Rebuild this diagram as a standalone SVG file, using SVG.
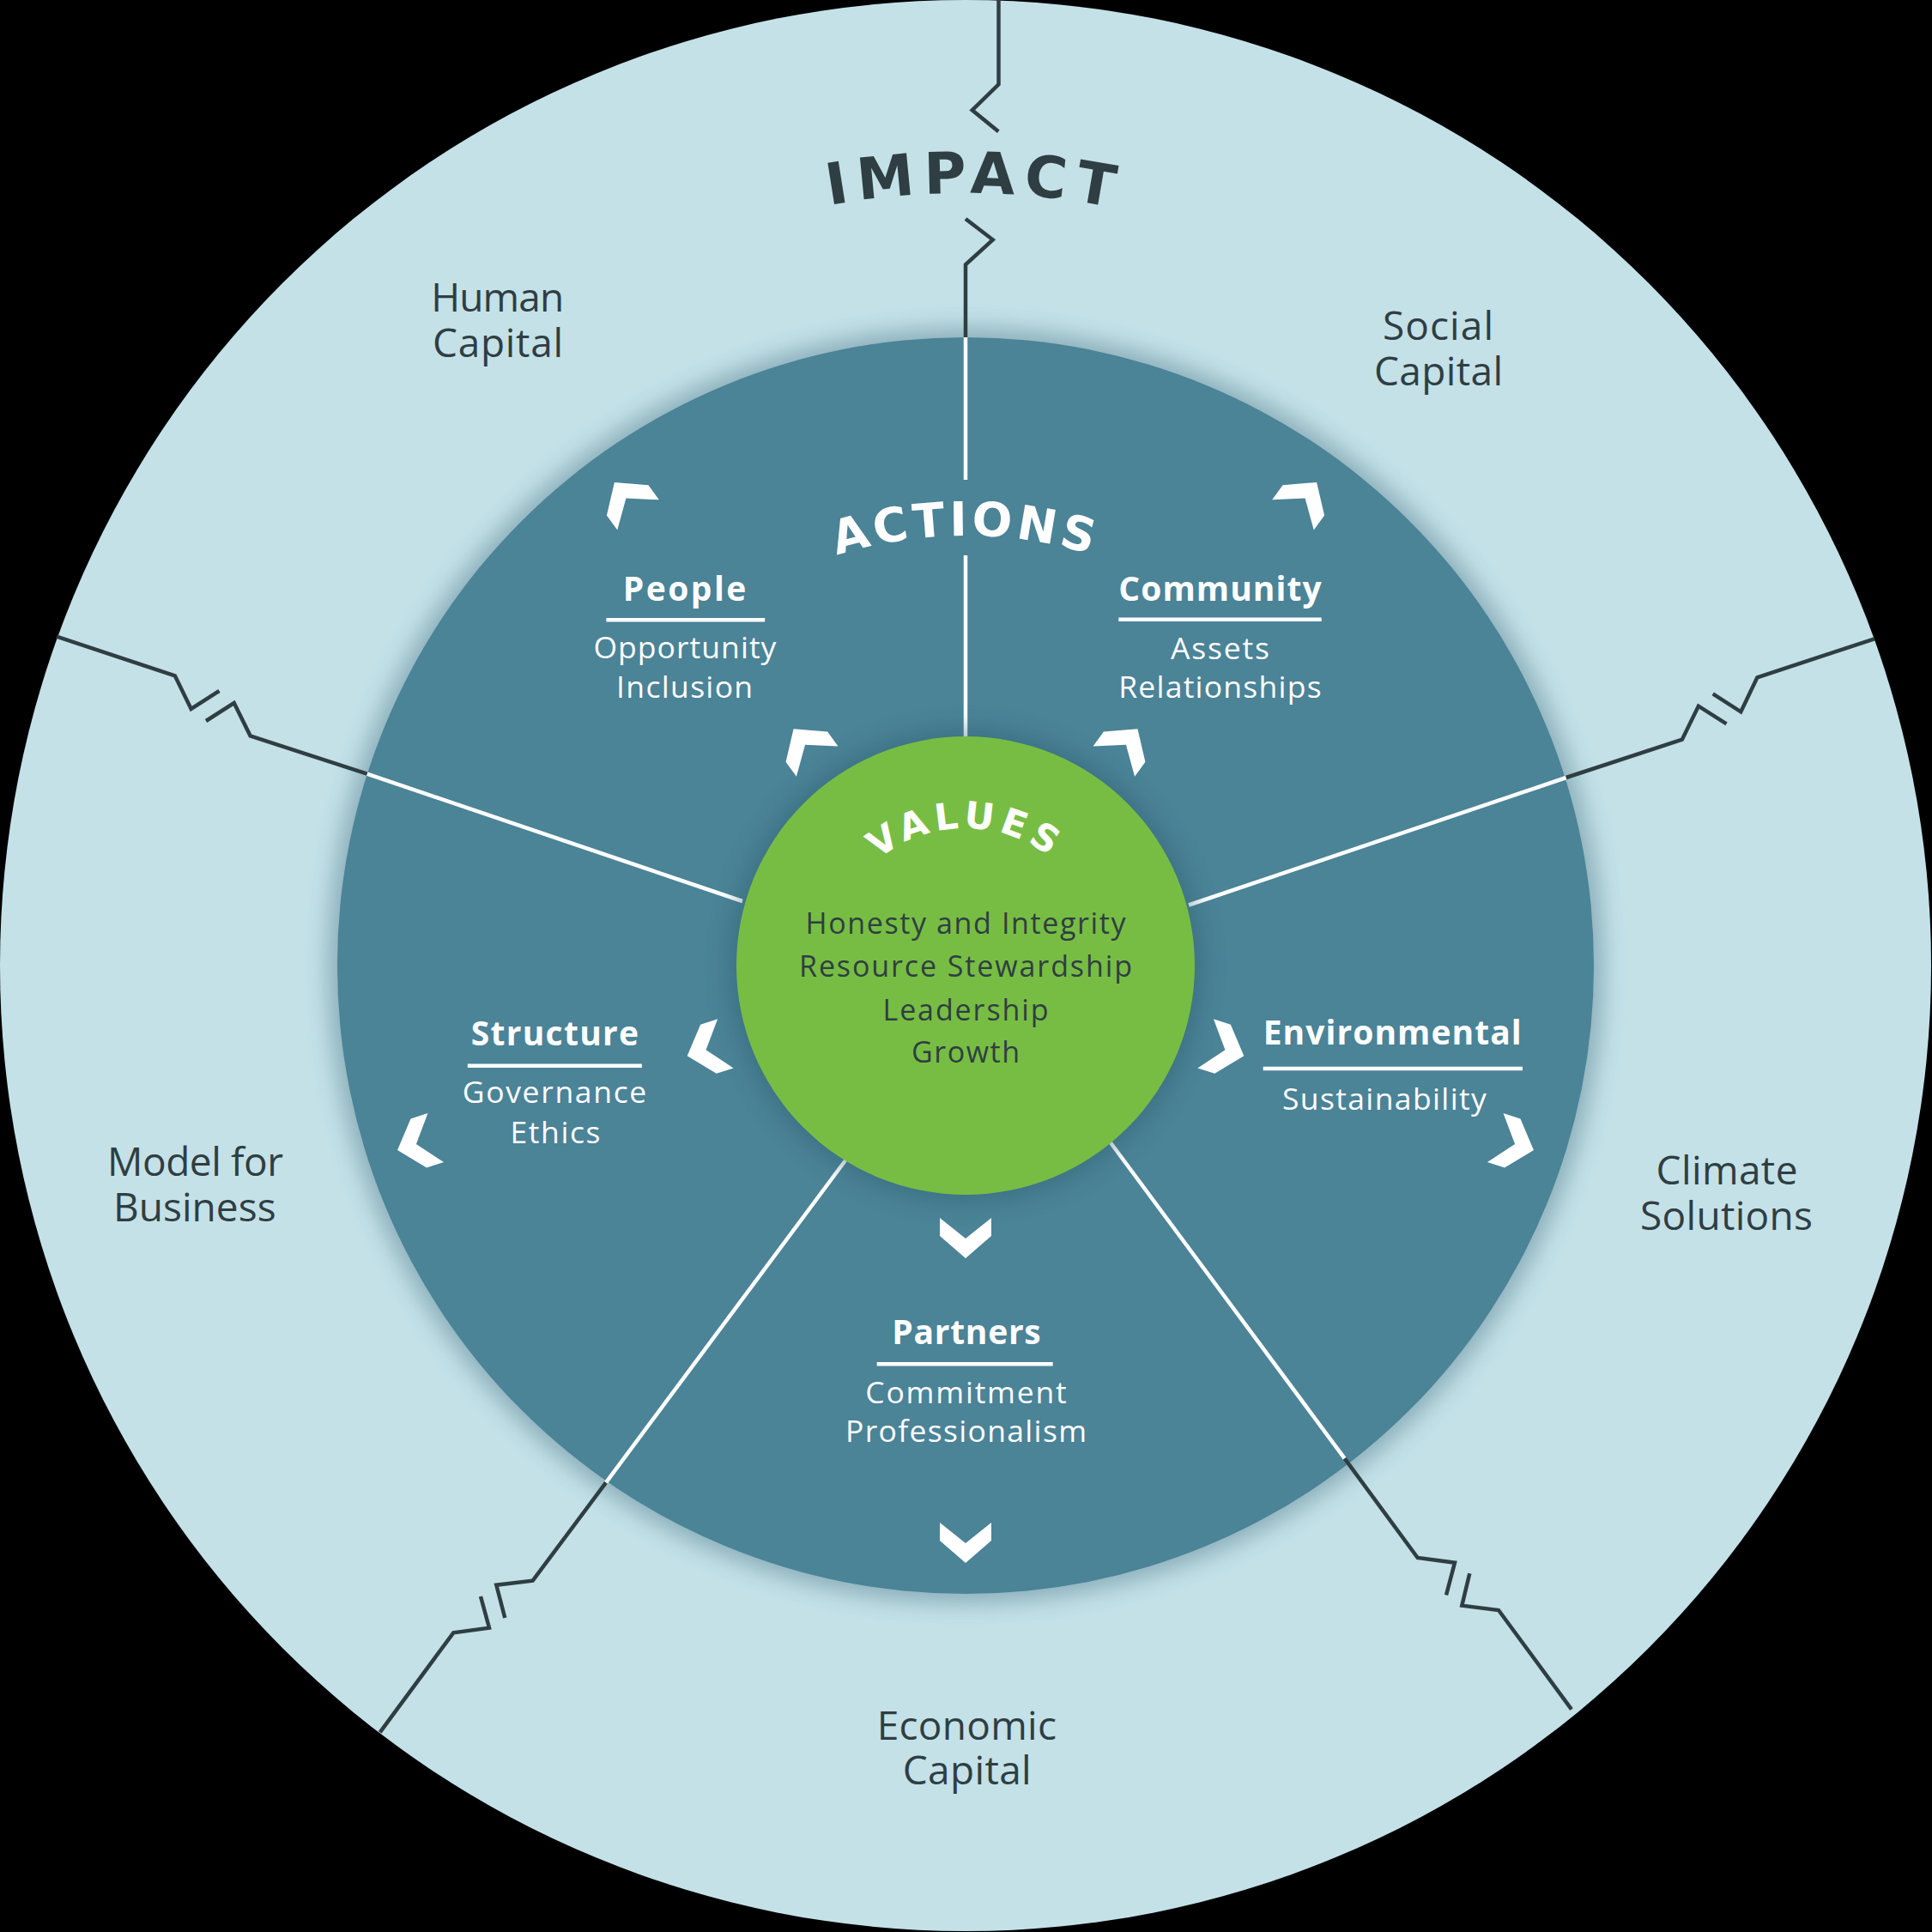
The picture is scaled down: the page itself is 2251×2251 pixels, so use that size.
<svg xmlns="http://www.w3.org/2000/svg" width="2251" height="2251" viewBox="0 0 2251 2251">
<defs>
<style>
.title{font-family:"Open Sans","Liberation Sans",sans-serif;font-weight:700;font-size:39px;fill:#ffffff;text-anchor:middle}
.sub{font-family:"Open Sans","Liberation Sans",sans-serif;font-weight:400;font-size:35.5px;fill:#ffffff;text-anchor:middle}
.outer{font-family:"Open Sans","Liberation Sans",sans-serif;font-weight:500;font-size:46px;fill:#2F3E42;text-anchor:middle}
.val{font-family:"Open Sans","Liberation Sans",sans-serif;font-weight:400;font-size:34px;fill:#2F3E42;text-anchor:middle}
.arc{font-family:"DejaVu Sans","Liberation Sans",sans-serif;font-weight:700;text-anchor:middle}
.zig{fill:none;stroke:#2F3E42;stroke-width:4.5;stroke-linejoin:miter;stroke-linecap:butt}
.spoke{stroke:#ffffff;stroke-width:4.5;fill:none}
.rule{stroke:#ffffff;stroke-width:4.5}
.chev{fill:#ffffff}
</style>
<filter id="soft" x="-20%" y="-20%" width="140%" height="140%"><feGaussianBlur stdDeviation="14"/></filter>
<path id="chev" d="M-24,-30 L0,0 L-24,30 L-3,30 L23,0 L-3,-30 Z"/>
<path id="arcImpact" d="M345.6,675 A900,900 0 0 1 1904.4,675"/>
<path id="arcActions" d="M691.1,874.5 A501,501 0 0 1 1558.9,874.5"/>
<path id="arcValues" d="M986.4,1045 A160,160 0 0 1 1263.6,1045"/>
</defs>

<rect x="0" y="0" width="2251" height="2251" fill="#000000"/>

<g id="impact-ring">
<circle cx="1125" cy="1125" r="1125" fill="#C4E1E8"/>
<text class="arc" font-size="67" fill="#2F3E42" letter-spacing="10" transform="rotate(0.7 1125 1125)"><textPath href="#arcImpact" startOffset="50%">IMPACT</textPath></text>
</g>

<g id="actions-ring">
<circle cx="1125" cy="1125" r="742" fill="#3d6c7c" opacity="0.45" filter="url(#soft)"/>
<circle cx="1125" cy="1125" r="732" fill="#4B8397"/>
<text class="arc" font-size="55" fill="#ffffff" letter-spacing="4.5"><textPath href="#arcActions" startOffset="50%">ACTIONS</textPath></text>
</g>

<g id="connectors">
<line class="spoke" x1="1125" y1="393" x2="1125" y2="559"/>
<line class="spoke" x1="1125" y1="647" x2="1125" y2="870"/>
<line class="spoke" x1="1385" y1="1054.5" x2="1824.7" y2="906"/>
<line class="spoke" x1="865" y1="1050" x2="427.7" y2="901.7"/>
<line class="spoke" x1="1290" y1="1326" x2="1566.7" y2="1699.3"/>
<line class="spoke" x1="988" y1="1348" x2="706" y2="1727.3"/>
<path class="zig" d="M1125,393 L1125,308.3 L1156.7,279.3 L1125,255"/>
<path class="zig" d="M1163.3,153.3 L1132.7,128.3 L1163.5,98.3 L1163.5,0"/>
<path class="zig" d="M1824.7,906 L1959.8,861.7 L1978.9,822.7 L2011.5,843.3"/>
<path class="zig" d="M1995.7,808.3 L2028.3,829.3 L2047.4,789.3 L2183.9,744.3"/>
<path class="zig" d="M427.7,901.7 L291.6,857.3 L272.7,819 L240,840"/>
<path class="zig" d="M255.5,805 L222.7,826 L203.8,787.3 L66,741.7"/>
<path class="zig" d="M1566.7,1699.3 L1651.7,1815 L1695,1820.7 L1685,1858.3"/>
<path class="zig" d="M1712.3,1833.3 L1703.3,1870.7 L1746,1876 L1831,1991.7"/>
<path class="zig" d="M706,1727.3 L620.7,1841.7 L578.3,1846.7 L588.3,1885"/>
<path class="zig" d="M560,1860 L570,1896.7 L528.3,1902.3 L442.7,2018.3"/>
</g>

<g id="arrows">
<use href="#chev" class="chev" transform="rotate(90 1125 1125) translate(1443 1125)"/>
<use href="#chev" class="chev" transform="rotate(90 1125 1125) translate(1798 1125)"/>
<use href="#chev" class="chev" transform="rotate(18 1125 1125) translate(1443 1125)"/>
<use href="#chev" class="chev" transform="rotate(18 1125 1125) translate(1798 1125)"/>
<use href="#chev" class="chev" transform="rotate(162 1125 1125) translate(1443 1125)"/>
<use href="#chev" class="chev" transform="rotate(162 1125 1125) translate(1798 1125)"/>
<use href="#chev" class="chev" transform="rotate(-54 1125 1125) translate(1443 1125)"/>
<use href="#chev" class="chev" transform="rotate(-54 1125 1125) translate(1798 1125)"/>
<use href="#chev" class="chev" transform="rotate(-126 1125 1125) translate(1443 1125)"/>
<use href="#chev" class="chev" transform="rotate(-126 1125 1125) translate(1798 1125)"/>
</g>

<g id="values">
<circle cx="1125" cy="1125" r="275" fill="#2c5a6a" opacity="0.45" filter="url(#soft)"/>
<circle cx="1125" cy="1125" r="267" fill="#77BD43"/>
<text class="arc" font-size="43" fill="#ffffff" letter-spacing="6"><textPath href="#arcValues" startOffset="50%">VALUES</textPath></text>
<text class="val" x="1125" y="1088" textLength="373">Honesty and Integrity</text>
<text class="val" x="1125" y="1138" textLength="388">Resource Stewardship</text>
<text class="val" x="1125" y="1189" textLength="193">Leadership</text>
<text class="val" x="1125" y="1238" textLength="126">Growth</text>
</g>

<g id="node-people">
<text class="title" x="797.6" y="700" textLength="143.6">People</text>
<line class="rule" x1="706.4" y1="722.3" x2="891.2" y2="722.3"/>
<text class="sub" x="797.9" y="766.7" textLength="213">Opportunity</text>
<text class="sub" x="797.6" y="813.3" textLength="159">Inclusion</text>
</g>

<g id="node-community">
<text class="title" x="1421.5" y="700" textLength="236.4">Community</text>
<line class="rule" x1="1303.3" y1="721.7" x2="1539.7" y2="721.7"/>
<text class="sub" x="1421.5" y="768" textLength="115">Assets</text>
<text class="sub" x="1421.4" y="813.3" textLength="236.4">Relationships</text>
</g>

<g id="node-structure">
<text class="title" x="646.4" y="1218.3" textLength="195.4">Structure</text>
<line class="rule" x1="544.8" y1="1241.7" x2="747.9" y2="1241.7"/>
<text class="sub" x="646" y="1285" textLength="214.6">Governance</text>
<text class="sub" x="647" y="1331.7" textLength="105">Ethics</text>
</g>

<g id="node-environmental">
<text class="title" x="1622.2" y="1217.3" textLength="301">Environmental</text>
<line class="rule" x1="1471.7" y1="1245" x2="1774" y2="1245"/>
<text class="sub" x="1612.9" y="1293.3" textLength="237.7">Sustainability</text>
</g>

<g id="node-partners">
<text class="title" x="1126" y="1566" textLength="173.4">Partners</text>
<line class="rule" x1="1021.7" y1="1589.3" x2="1226.7" y2="1589.3"/>
<text class="sub" x="1125.5" y="1635" textLength="234.4">Commitment</text>
<text class="sub" x="1125.5" y="1680" textLength="281">Professionalism</text>
</g>

<g id="label-human-capital">
<text class="outer" x="579.7" y="363" textLength="155">Human</text>
<text class="outer" x="580" y="416" textLength="152">Capital</text>
</g>
<g id="label-social-capital">
<text class="outer" x="1675.5" y="396" textLength="129">Social</text>
<text class="outer" x="1676" y="449" textLength="150">Capital</text>
</g>
<g id="label-model-for-business">
<text class="outer" x="227.5" y="1369.5" textLength="205">Model for</text>
<text class="outer" x="226.8" y="1422.6" textLength="189.6">Business</text>
</g>
<g id="label-climate-solutions">
<text class="outer" x="2012" y="1379.6" textLength="165">Climate</text>
<text class="outer" x="2011.5" y="1432.7" textLength="201">Solutions</text>
</g>
<g id="label-economic-capital">
<text class="outer" x="1126.3" y="2026.7" textLength="209.3">Economic</text>
<text class="outer" x="1126.7" y="2079" textLength="150">Capital</text>
</g>
</svg>
